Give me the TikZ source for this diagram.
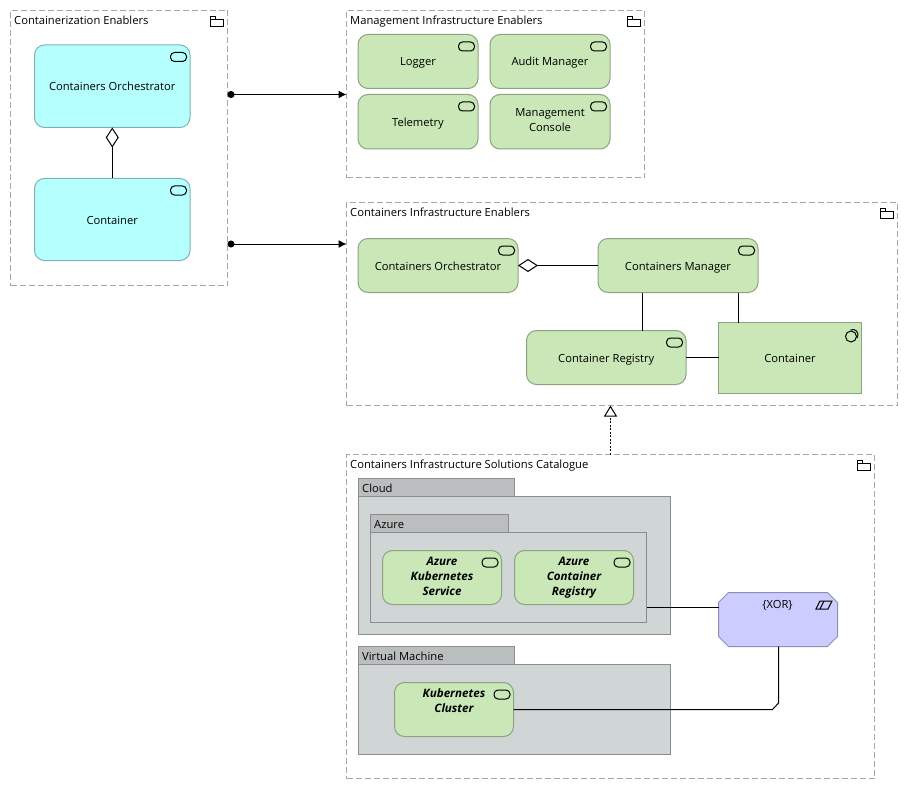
\documentclass[tikz,border=0pt]{standalone}
\usepackage{fontspec}
\setmainfont{Open Sans}
\usetikzlibrary{arrows.meta,calc}
\definecolor{cyanfill}{HTML}{B5FFFF}
\definecolor{cyanline}{HTML}{7FB3B3}
\definecolor{svcfill}{HTML}{C9E7B7}
\definecolor{svcline}{HTML}{8DA280}
\definecolor{pkgfill}{HTML}{D0D6D6}
\definecolor{tabfill}{HTML}{BBBEBE}
\definecolor{xorfill}{HTML}{CCCCFF}
\definecolor{xorline}{HTML}{8F8FB3}
\newcommand{\linestrut}{\rule[-3pt]{0pt}{15pt}}
\tikzset{
  txt/.style={font=\fontsize{11.2}{15}\selectfont,align=center,inner sep=0pt,
    execute at begin node=\linestrut,execute at end node=\linestrut},
  groupbox/.style={draw=black!35,dash pattern=on 6pt off 3pt,line width=1pt,inner sep=0pt,outer sep=0pt},
  grouptitle/.style={txt,anchor=west},
  svcnode/.style={txt,draw=svcline,fill=svcfill,rounded corners=10pt,line width=1pt,outer sep=0pt},
  cyannode/.style={svcnode,draw=cyanline,fill=cyanfill},
  multiline/.style={execute at begin node={\vspace*{4pt}\linestrut}},
  namednode/.style={svcnode,multiline,font=\fontsize{11.6}{15}\selectfont\bfseries\itshape},
  pkgbody/.style={draw=black!45,fill=pkgfill,line width=1pt,inner sep=0pt,outer sep=0pt},
  pkgtab/.style={pkgbody,fill=tabfill},
  xornode/.style={inner sep=0pt,outer sep=0pt},
  xorshape/.style={draw=xorline,fill=xorfill,line width=1pt},
  conn/.style={draw=black,line width=1pt},
  pics/svcicon/.style={code={\draw[line width=1pt,rounded corners=4pt] (-8,-4.5) rectangle (8,4.5);}},
  pics/foldericon/.style={code={\draw[line width=0.9pt] (-6.5,-2) -- (-6.5,-5) -- (-1,-5) -- (-1,-2) (-6.5,-2) rectangle (6.5,5);}},
}
% box given by its left, top, right, bottom edge
\newcommand{\boxat}[6][]{\node[#1,minimum width={(#5-#3)*1pt},minimum height={(#6-#4)*1pt}] (#2) at ({(#3+#5)/2},{(#4+#6)/2})}
\newcommand{\svcmark}[1]{\pic at ([shift={(-11.5,12)}]#1.north east) {svcicon};}
\newcommand{\foldermark}[1]{\pic at ([shift={(-11,10.5)}]#1.north east) {foldericon};}
\begin{document}
\begin{tikzpicture}[x=1pt,y=-1pt]
    \useasboundingbox (0,0) rectangle (908,789);
    % group boxes
    \boxat[groupbox]{enab}{10.5}{10.5}{227.5}{285.5} {};
    \boxat[groupbox]{mgmt}{346.5}{10.5}{644.5}{178} {};
    \boxat[groupbox]{infra}{346.5}{202.5}{897.5}{405.5} {};
    \boxat[groupbox]{cat}{346.5}{454.5}{874.5}{778.5} {};
    \node[grouptitle] (enabtitle) at (14,20) {Containerization Enablers};
    \node[grouptitle] (mgmttitle) at (350,20) {Management Infrastructure Enablers};
    \node[grouptitle] (infratitle) at (350,212) {Containers Infrastructure Enablers};
    \node[grouptitle] (cattitle) at (350,464) {Containers Infrastructure Solutions Catalogue};
    \foldermark{enab} \foldermark{mgmt} \foldermark{infra} \foldermark{cat}
    % enablers
    \boxat[cyannode]{orch}{34.5}{45}{190}{127.5} {Containers Orchestrator};
    \boxat[cyannode]{cont}{34.5}{178.5}{190}{260.5} {Container};
    \svcmark{orch} \svcmark{cont}
    % management
    \boxat[svcnode]{logger}{358}{34.5}{478}{88.5} {Logger};
    \boxat[svcnode]{audit}{490}{34.5}{610}{88.5} {Audit Manager};
    \boxat[svcnode]{tele}{358}{94.5}{478}{149} {Telemetry};
    \boxat[svcnode,multiline]{console}{490}{94.5}{610}{149} {Management\\Console};
    \svcmark{logger} \svcmark{audit} \svcmark{tele} \svcmark{console}
    % infrastructure
    \boxat[svcnode]{iorch}{358}{238.5}{518}{292.5} {Containers Orchestrator};
    \boxat[svcnode]{imgr}{598}{238.5}{758}{292.5} {Containers Manager};
    \boxat[svcnode]{ireg}{526.5}{330.5}{686}{384.5} {Container Registry};
    \boxat[svcnode,rounded corners=0pt]{icont}{718.5}{322.5}{861.5}{393.5} {Container};
    \svcmark{iorch} \svcmark{imgr} \svcmark{ireg}
    \draw[line width=1pt] (851,336.5) circle (5.5);
    \draw[line width=1pt] (850.5,330) .. controls (855,328) and (860,332) .. (857,338);
    % catalogue
    \boxat[pkgtab]{cloudtab}{358.5}{478.5}{514.5}{496.5} {};
    \boxat[pkgbody]{cloud}{358.5}{496.5}{670.5}{634.5} {};
    \node[grouptitle] (cloudtitle) at (362,488) {Cloud};
    \boxat[pkgtab]{azuretab}{370.5}{514.5}{508.5}{532.5} {};
    \boxat[pkgbody]{azure}{370.5}{532.5}{646.5}{622.5} {};
    \node[grouptitle] (azuretitle) at (374,524) {Azure};
    \boxat[namednode]{aks}{382.5}{550.5}{501.5}{604.5} {Azure\\Kubernetes\\Service};
    \boxat[namednode]{acr}{514.5}{550.5}{633.5}{604.5} {Azure\\Container\\Registry};
    \svcmark{aks} \svcmark{acr}
    \boxat[pkgtab]{vmtab}{358.5}{646.5}{514.5}{664.5} {};
    \boxat[pkgbody]{vm}{358.5}{664.5}{670.5}{754.5} {};
    \node[grouptitle] (vmtitle) at (362,656) {Virtual Machine};
    \boxat[namednode]{kube}{394.5}{682.5}{513.5}{736.5} {Kubernetes\\Cluster\\};
    \svcmark{kube}
    % xor junction
    \boxat[xornode]{xor}{718.5}{592.5}{837.5}{646.5} {};
    \draw[xorshape] ([shift={(10,0)}]xor.north west) -- ([shift={(-10,0)}]xor.north east)
        -- ([shift={(0,10)}]xor.north east) -- ([shift={(0,-10)}]xor.south east)
        -- ([shift={(-10,0)}]xor.south east) -- ([shift={(10,0)}]xor.south west)
        -- ([shift={(0,-10)}]xor.south west) -- ([shift={(0,10)}]xor.north west) -- cycle;
    \node[txt] (xortitle) at (777.5,604) {\{XOR\}};
    \draw[line width=1pt] (816,609) -- (820,601) -- (832,601) -- (828,609) -- cycle (820,609) -- (824,601);
    % connectors
    \coordinate (mgmtin) at (346.5,94.5);
    \coordinate (infrain) at (346.5,244);
    \draw[conn,{Circle[length=7pt]}-{Latex[length=8pt,width=8pt]}] (enab.east |- mgmtin) -- (mgmtin);
    \draw[conn,{Circle[length=7pt]}-{Latex[length=8pt,width=8pt]}] (enab.east |- infrain) -- (infrain);
    \draw[conn,{Diamond[open,fill=white,length=20pt,width=13pt]}-] (orch.south) -- (cont.north);
    \draw[conn,{Diamond[open,fill=white,length=20pt,width=13pt]}-] (iorch.east) -- (imgr.west);
    \coordinate (mgrleft) at (642.5,292.5);
    \coordinate (mgrright) at (738.5,292.5);
    \draw[conn] (mgrleft) -- (mgrleft |- ireg.north);
    \draw[conn] (mgrright) -- (mgrright |- icont.north);
    \draw[conn] (ireg.east) -- (icont.west |- ireg.east);
    \draw[conn,dash pattern=on 2pt off 1.5pt,-{Triangle[open,fill=white,length=11pt,width=13pt]}] (cat.north) -- (cat.north |- infra.south);
    \coordinate (xorin) at (718.5,607);
    \draw[conn] (azure.east |- xorin) -- (xorin);
    \coordinate (bendin) at (772.5,709.5);
    \coordinate (bendout) at (778.5,703);
    \draw[conn] (kube.east) -- (bendin) -- (bendout) -- (xor.south -| bendout);
\end{tikzpicture}
\end{document}
